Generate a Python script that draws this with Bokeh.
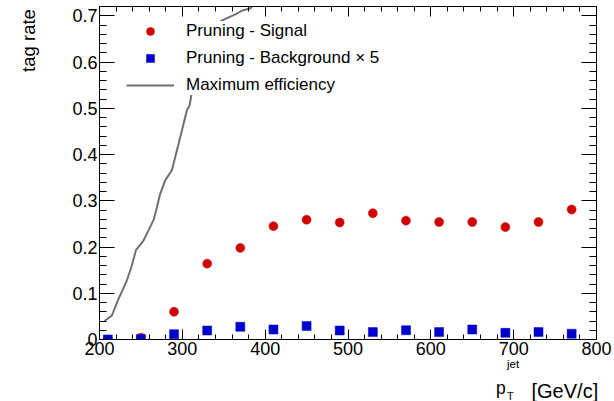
import numpy as np
from bokeh.plotting import figure
from bokeh.layouts import column, row
from bokeh.models import (Range1d, LinearAxis, FixedTicker, Legend, LegendItem,
                          Label, Title, CustomJSTickFormatter)
from bokeh.embed import file_html
from bokeh.resources import INLINE

# ---------------- data ----------------
pt_bins = [210, 250, 290, 330, 370, 410, 450, 490, 530, 570, 610, 650, 690, 730, 770]
signal_rate = [0.0, 0.004, 0.060, 0.164, 0.198, 0.245, 0.259, 0.253, 0.273, 0.257,
               0.254, 0.254, 0.243, 0.254, 0.281]
background_x5 = [0.0, 0.001, 0.0115, 0.0195, 0.0275, 0.0216, 0.029, 0.0195, 0.016, 0.020,
                 0.016, 0.0216, 0.0144, 0.016, 0.0125]
maxeff_pt = [206.0, 215.0, 223.0, 233.1, 239.1, 244.0, 253.1, 259.2, 265.2, 269.3, 273.3,
             279.3, 287.4, 293.5, 299.5, 305.6, 308.7, 318.0, 332.0, 348.0, 363.9, 373.6,
             382.0, 385.6, 395.0]
maxeff_rate = [0.040, 0.052, 0.088, 0.128, 0.160, 0.193, 0.214, 0.236, 0.258, 0.286, 0.315,
               0.344, 0.366, 0.409, 0.452, 0.496, 0.506, 0.600, 0.665, 0.690, 0.703, 0.712,
               0.716, 0.723, 0.735]
x_major_ticks = [200, 300, 400, 500, 600, 700, 800]
y_major_ticks = [0, 0.1, 0.2, 0.3, 0.4, 0.5, 0.6, 0.7]
legend_labels = ["Pruning - Signal", "Pruning - Background \u00d7 5", "Maximum efficiency"]
y_title = "tag rate"

# ---------------- layout ----------------
W, H = 614, 401
LEFT_W = 45          # width of the strip holding the y title
TOP_H = 376          # height of the row holding the chart
FL, FR, FT, FB = 99, 596, 6, 339   # frame edges in page pixels
X0, X1 = 200, 800
Y0, Y1 = 0.0, 0.72
FONT = "Liberation Sans"

p = figure(width=W - LEFT_W, height=TOP_H, output_backend="svg", toolbar_location=None,
           x_range=Range1d(X0, X1), y_range=Range1d(Y0, Y1),
           min_border_left=FL - LEFT_W, min_border_right=W - FR,
           min_border_top=FT, min_border_bottom=TOP_H - FB,
           background_fill_color="white", border_fill_color="white")
p.xgrid.visible = False
p.ygrid.visible = False
p.outline_line_color = "black"
p.outline_line_width = 1

x_minor = list(np.arange(200, 801, 20))
y_minor = list(np.round(np.arange(0, 0.721, 0.02), 3))
xticker = FixedTicker(ticks=x_major_ticks, minor_ticks=x_minor)
yticker = FixedTicker(ticks=y_major_ticks, minor_ticks=y_minor)


def style_axis(ax, is_x, labels=True):
    ax.ticker = xticker if is_x else yticker
    ax.axis_line_color = "black"
    ax.major_tick_line_color = "black"
    ax.minor_tick_line_color = "black"
    ax.major_tick_out = 0
    ax.minor_tick_out = 0
    ax.major_tick_in = 10 if is_x else 15
    ax.minor_tick_in = 5 if is_x else 7
    ax.major_label_text_font = FONT
    ax.major_label_text_color = "black"
    if labels:
        ax.major_label_text_font_size = "18px"
        ax.major_label_standoff = 2
    else:
        ax.formatter = CustomJSTickFormatter(code="return '';")
        ax.major_label_text_font_size = "1px"
        ax.major_label_standoff = 0


style_axis(p.xaxis[0], True)
style_axis(p.yaxis[0], False)
p.yaxis[0].formatter = CustomJSTickFormatter(code="return String(Math.round(tick*10)/10);")

top_axis = LinearAxis()
style_axis(top_axis, True, labels=False)
p.add_layout(top_axis, "above")
right_axis = LinearAxis()
style_axis(right_axis, False, labels=False)
p.add_layout(right_axis, "right")

# superscript of the x title sits just under the tick labels
p.add_layout(Title(text="jet", align="left", offset=506.5 - FL, standoff=0,
                   vertical_align="top", text_font=FONT, text_font_size="11.5px",
                   text_font_style="normal", text_color="black"), "below")

# ---------------- glyphs ----------------
r_line = p.line(maxeff_pt, maxeff_rate, line_color="#707070", line_width=2)
r_sig = p.scatter(pt_bins, signal_rate, marker="circle", size=9,
                  fill_color="#d00000", line_color="#d00000", line_width=0.5)
r_bkg = p.scatter(pt_bins, background_x5, marker="square", size=9,
                  fill_color="#0000cc", line_color="#0000cc", line_width=0.5)

legend = Legend(items=[LegendItem(label=legend_labels[0], renderers=[r_sig]),
                       LegendItem(label=legend_labels[1], renderers=[r_bkg]),
                       LegendItem(label=legend_labels[2], renderers=[r_line])],
                location=(27, 244),
                glyph_width=48, glyph_height=20, label_height=20,
                label_standoff=12, spacing=7, padding=7, margin=0,
                label_text_font=FONT, label_text_font_size="17px",
                label_text_color="black",
                background_fill_color="white", background_fill_alpha=1.0,
                border_line_color=None)
p.add_layout(legend)


def text_strip(w, h):
    f = figure(width=w, height=h, output_backend="svg", toolbar_location=None,
               x_range=Range1d(0, w), y_range=Range1d(0, h), min_border=0,
               x_axis_location=None, y_axis_location=None,
               background_fill_color="white", border_fill_color="white")
    f.outline_line_color = None
    f.grid.visible = False
    return f


# y title strip (left)
pl = text_strip(LEFT_W, TOP_H)
pl.add_layout(Label(x=28, y=TOP_H - 3, text=y_title, angle=np.pi / 2,
                    text_align="right", text_baseline="middle",
                    text_font=FONT, text_font_size="18.5px", text_color="black"))

# x title strip (bottom)
BH = H - TOP_H
pb = text_strip(W, BH)


def by(py):
    return H - py


pb.add_layout(Label(x=495.5, y=by(387.5), text="p", text_align="left",
                    text_baseline="alphabetic",
                    text_font=FONT, text_font_size="17.5px", text_color="black"))
pb.add_layout(Label(x=506.5, y=by(395), text="T", text_align="left",
                    text_baseline="alphabetic",
                    text_font=FONT, text_font_size="11px", text_color="black"))
pb.add_layout(Label(x=531, y=by(390), text="[GeV/c]", text_align="left",
                    text_baseline="alphabetic",
                    text_font=FONT, text_font_size="20px", text_color="black"))

layout = column(row(pl, p, spacing=0), pb, spacing=0)
open("out.html", "w").write(file_html(layout, INLINE))
